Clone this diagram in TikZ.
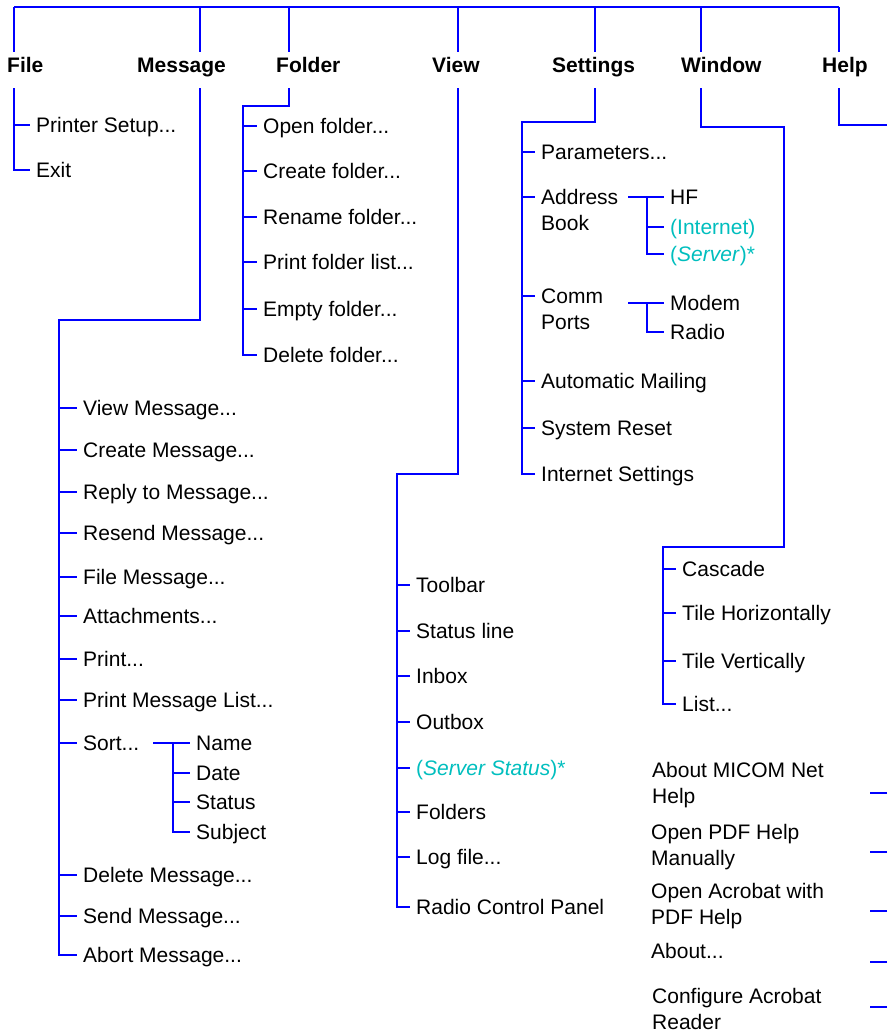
\documentclass[tikz,border=0pt]{standalone}
\usepackage{fontspec}
\setmainfont{Liberation Sans}
\definecolor{menublue}{RGB}{0,0,255}
\definecolor{optcyan}{RGB}{0,190,190}
\newcommand{\twolines}[2]{\begin{tabular}[t]{@{}l@{}}#1\\#2\end{tabular}}
\tikzset{
	linkstyle/.style={draw=menublue,line width=2.2pt},
	headstyle/.style={font=\bfseries,anchor=base west,inner sep=0pt,text height=21pt,text depth=15pt},
	itemstyle/.style={anchor=west,inner xsep=6pt,inner ysep=0pt,text height=15pt,text depth=0pt},
	optstyle/.style={itemstyle,text=optcyan},
	helpstyle/.style={anchor=base west,inner sep=0pt}
}

\begin{document}
\begin{tikzpicture}[x=1pt,y=-1pt]
	\fontsize{21}{26}\selectfont
	\useasboundingbox (0,0) rectangle (887,1033);
	% menu bar
	\node[headstyle] (file) at (7,73) {File};
	\node[headstyle] (msg) at (137,73) {Message};
	\node[headstyle] (fold) at (276,73) {Folder};
	\node[headstyle] (view) at (432,73) {View};
	\node[headstyle] (set) at (552,73) {Settings};
	\node[headstyle] (win) at (681,73) {Window};
	\node[headstyle] (help) at (822,73) {Help};
	\coordinate (dfile) at (14,7);
	\coordinate (dmsg) at (200,7);
	\coordinate (dfold) at (289,7);
	\coordinate (dview) at (458,7);
	\coordinate (dset) at (595,7);
	\coordinate (dwin) at (701,7);
	\coordinate (dhelp) at (839,7);
	\draw[linkstyle] (dfile) -- (dhelp);
	\draw[linkstyle] (dfile) -- (dfile |- file.north);
	\draw[linkstyle] (dmsg) -- (dmsg |- msg.north);
	\draw[linkstyle] (dfold) -- (dfold |- fold.north);
	\draw[linkstyle] (dview) -- (dview |- view.north);
	\draw[linkstyle] (dset) -- (dset |- set.north);
	\draw[linkstyle] (dwin) -- (dwin |- win.north);
	\draw[linkstyle] (dhelp) -- (dhelp |- help.north);
	% File
	\node[itemstyle] (prsetup) at (30,125) {Printer Setup...};
	\node[itemstyle] (exit) at (30,170) {Exit};
	\draw[linkstyle] (dfile |- file.south) -- (dfile |- exit.west) -- (exit.west);
	\draw[linkstyle] (dfile |- prsetup.west) -- (prsetup.west);
	% Message
	\node[itemstyle] (viewmsg) at (77,408) {View Message...};
	\node[itemstyle] (createmsg) at (77,450) {Create Message...};
	\node[itemstyle] (replymsg) at (77,492) {Reply to Message...};
	\node[itemstyle] (resendmsg) at (77,533) {Resend Message...};
	\node[itemstyle] (filemsg) at (77,577) {File Message...};
	\node[itemstyle] (attach) at (77,616) {Attachments...};
	\node[itemstyle] (print) at (77,659) {Print...};
	\node[itemstyle] (printlist) at (77,700) {Print Message List...};
	\node[itemstyle] (sort) at (77,743) {Sort...};
	\node[itemstyle] (deletemsg) at (77,875) {Delete Message...};
	\node[itemstyle] (sendmsg) at (77,916) {Send Message...};
	\node[itemstyle] (abortmsg) at (77,955) {Abort Message...};
	\coordinate (mcorner) at (59,320);
	\draw[linkstyle] (dmsg |- msg.south) -- (dmsg |- mcorner) -- (mcorner) -- (mcorner |- abortmsg.west) -- (abortmsg.west);
	\draw[linkstyle] (mcorner |- viewmsg.west) -- (viewmsg.west)
		(mcorner |- createmsg.west) -- (createmsg.west)
		(mcorner |- replymsg.west) -- (replymsg.west)
		(mcorner |- resendmsg.west) -- (resendmsg.west)
		(mcorner |- filemsg.west) -- (filemsg.west)
		(mcorner |- attach.west) -- (attach.west)
		(mcorner |- print.west) -- (print.west)
		(mcorner |- printlist.west) -- (printlist.west)
		(mcorner |- sort.west) -- (sort.west)
		(mcorner |- deletemsg.west) -- (deletemsg.west)
		(mcorner |- sendmsg.west) -- (sendmsg.west);
	% Sort submenu
	\node[itemstyle] (sname) at (190,743) {Name};
	\node[itemstyle] (sdate) at (190,773) {Date};
	\node[itemstyle] (sstatus) at (190,802) {Status};
	\node[itemstyle] (ssubject) at (190,832) {Subject};
	\coordinate (sortout) at (153,743);
	\coordinate (sortsp) at (173,743);
	\draw[linkstyle] (sortout) -- (sname.west);
	\draw[linkstyle] (sortsp) -- (sortsp |- ssubject.west) -- (ssubject.west);
	\draw[linkstyle] (sortsp |- sdate.west) -- (sdate.west)
		(sortsp |- sstatus.west) -- (sstatus.west);
	% Folder
	\node[itemstyle] (openf) at (257,126) {Open folder...};
	\node[itemstyle] (createf) at (257,171) {Create folder...};
	\node[itemstyle] (renamef) at (257,217) {Rename folder...};
	\node[itemstyle] (printf) at (257,262) {Print folder list...};
	\node[itemstyle] (emptyf) at (257,309) {Empty folder...};
	\node[itemstyle] (deletef) at (257,355) {Delete folder...};
	\coordinate (fcorner) at (243,106);
	\draw[linkstyle] (dfold |- fold.south) -- (dfold |- fcorner) -- (fcorner) -- (fcorner |- deletef.west) -- (deletef.west);
	\draw[linkstyle] (fcorner |- openf.west) -- (openf.west)
		(fcorner |- createf.west) -- (createf.west)
		(fcorner |- renamef.west) -- (renamef.west)
		(fcorner |- printf.west) -- (printf.west)
		(fcorner |- emptyf.west) -- (emptyf.west);
	% View
	\node[itemstyle] (toolbar) at (410,585) {Toolbar};
	\node[itemstyle] (statusl) at (410,631) {Status line};
	\node[itemstyle] (inbox) at (410,676) {Inbox};
	\node[itemstyle] (outbox) at (410,722) {Outbox};
	\node[optstyle] (srvstatus) at (410,768) {(\textit{Server Status})*};
	\node[itemstyle] (folders) at (410,812) {Folders};
	\node[itemstyle] (logfile) at (410,857) {Log file...};
	\node[itemstyle] (radiocp) at (410,907) {Radio Control Panel};
	\coordinate (vcorner) at (397,474);
	\draw[linkstyle] (dview |- view.south) -- (dview |- vcorner) -- (vcorner) -- (vcorner |- radiocp.west) -- (radiocp.west);
	\draw[linkstyle] (vcorner |- toolbar.west) -- (toolbar.west)
		(vcorner |- statusl.west) -- (statusl.west)
		(vcorner |- inbox.west) -- (inbox.west)
		(vcorner |- outbox.west) -- (outbox.west)
		(vcorner |- srvstatus.west) -- (srvstatus.west)
		(vcorner |- folders.west) -- (folders.west)
		(vcorner |- logfile.west) -- (logfile.west);
	% Settings
	\node[itemstyle] (params) at (535,152) {Parameters...};
	\node[itemstyle] (addrbook) at (535,197) {\twolines{Address}{Book}};
	\node[itemstyle] (commports) at (535,296) {\twolines{Comm}{Ports}};
	\node[itemstyle] (automail) at (535,381) {Automatic Mailing};
	\node[itemstyle] (sysreset) at (535,428) {System Reset};
	\node[itemstyle] (inetset) at (535,474) {Internet Settings};
	\coordinate (scorner) at (522,122);
	\draw[linkstyle] (dset |- set.south) -- (dset |- scorner) -- (scorner) -- (scorner |- inetset.west) -- (inetset.west);
	\draw[linkstyle] (scorner |- params.west) -- (params.west)
		(scorner |- addrbook.west) -- (addrbook.west)
		(scorner |- commports.west) -- (commports.west)
		(scorner |- automail.west) -- (automail.west)
		(scorner |- sysreset.west) -- (sysreset.west);
	% Address Book and Comm Ports submenus
	\node[itemstyle] (hf) at (664,197) {HF};
	\node[optstyle] (inet) at (664,227) {(Internet)};
	\node[optstyle] (server) at (664,254) {(\textit{Server})*};
	\coordinate (about) at (628,197);
	\coordinate (absp) at (647,197);
	\draw[linkstyle] (about) -- (hf.west);
	\draw[linkstyle] (absp) -- (absp |- server.west) -- (server.west);
	\draw[linkstyle] (absp |- inet.west) -- (inet.west);
	\node[itemstyle] (modem) at (664,303) {Modem};
	\node[itemstyle] (radio) at (664,332) {Radio};
	\coordinate (cpout) at (628,303);
	\coordinate (cpsp) at (647,303);
	\draw[linkstyle] (cpout) -- (modem.west);
	\draw[linkstyle] (cpsp) -- (cpsp |- radio.west) -- (radio.west);
	% Window
	\node[itemstyle] (cascade) at (676,569) {Cascade};
	\node[itemstyle] (tileh) at (676,613) {Tile Horizontally};
	\node[itemstyle] (tilev) at (676,661) {Tile Vertically};
	\node[itemstyle] (list) at (676,704) {List...};
	\coordinate (wtop) at (784,127);
	\coordinate (wcorner) at (663,547);
	\draw[linkstyle] (dwin |- win.south) -- (dwin |- wtop) -- (wtop) -- (wtop |- wcorner) -- (wcorner) -- (wcorner |- list.west) -- (list.west);
	\draw[linkstyle] (wcorner |- cascade.west) -- (cascade.west)
		(wcorner |- tileh.west) -- (tileh.west)
		(wcorner |- tilev.west) -- (tilev.west);
	% Help
	\coordinate (hright) at (887,125);
	\draw[linkstyle] (dhelp |- help.south) -- (dhelp |- hright) -- (hright);
	\node[helpstyle] (hmicom) at (652,777) {\twolines{About MICOM Net}{Help}};
	\node[helpstyle] (hpdf) at (651,839) {\twolines{Open PDF Help}{Manually}};
	\node[helpstyle] (hacro) at (651,898) {\twolines{Open Acrobat with}{PDF Help}};
	\node[helpstyle] (habout) at (651,958) {About...};
	\node[helpstyle] (hconf) at (652,1003) {\twolines{Configure Acrobat}{Reader}};
	\coordinate (ht1) at (887,793);
	\coordinate (ht2) at (887,852);
	\coordinate (ht3) at (887,911);
	\coordinate (ht4) at (887,962);
	\coordinate (ht5) at (887,1007);
	\draw[linkstyle] (ht1) -- ++(-17,0);
	\draw[linkstyle] (ht2) -- ++(-17,0);
	\draw[linkstyle] (ht3) -- ++(-17,0);
	\draw[linkstyle] (ht4) -- ++(-17,0);
	\draw[linkstyle] (ht5) -- ++(-17,0);
\end{tikzpicture}
\end{document}
